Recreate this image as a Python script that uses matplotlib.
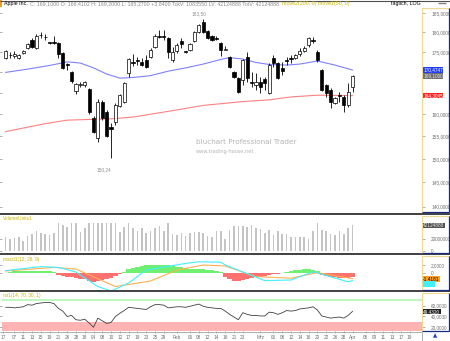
import numpy as np
import matplotlib
matplotlib.use("Agg")
import matplotlib.pyplot as plt
from matplotlib.lines import Line2D
from matplotlib.patches import Rectangle
from matplotlib.ticker import NullLocator

plt.rcParams['font.family'] = ['Liberation Sans', 'DejaVu Sans']

# ---------------- data ----------------
opens = [173.4, 174.3, 174.0, 173.5, 174.7, 176.0, 178.0, 176.0, 179.2, 178.9,
         177.4, 177.5, 177.25, 174.7, 172.0, 170.0, 165.4, 166.8, 166.8, 165.9,
         159.1, 154.6, 162.8, 160.5, 157.0, 158.2, 161.9, 162.8, 169.8, 172.4,
         172.9, 172.4, 173.0, 173.7, 176.2, 179.0, 179.0, 178.5, 173.0, 175.2,
         177.8, 175.1, 175.5, 177.8, 180.1, 182.7, 180.3, 179.0, 178.5, 177.25,
         175.5, 173.7, 170.0, 168.5, 168.0, 173.7, 167.6, 166.8, 167.6, 168.3,
         164.9, 173.5, 172.2, 171.0, 173.0, 173.5, 173.5, 174.5, 175.2, 176.7,
         178.0, 175.0, 170.5, 166.8, 165.6, 162.6, 164.5, 164.0, 162.1, 166.41]
highs = [175.5, 175.0, 175.2, 174.5, 175.5, 177.2, 178.5, 179.6, 180.1, 179.6,
         177.5, 179.0, 177.5, 175.0, 172.2, 170.2, 167.3, 167.6, 167.8, 166.1,
         159.6, 163.5, 163.3, 161.0, 158.0, 162.6, 164.7, 167.6, 173.5, 174.5,
         173.7, 173.5, 174.2, 176.0, 179.6, 180.6, 180.6, 178.8, 176.2, 177.2,
         178.5, 175.2, 177.2, 180.3, 182.2, 183.5, 180.6, 179.3, 179.0, 177.5,
         176.5, 174.0, 170.2, 168.8, 173.2, 175.0, 170.0, 169.8, 168.8, 168.8,
         172.2, 174.2, 172.5, 172.5, 173.7, 174.2, 174.5, 176.0, 176.5, 178.8,
         178.8, 175.5, 170.7, 167.1, 166.1, 164.0, 165.2, 164.5, 167.3, 169.2]
lows = [173.2, 173.5, 173.5, 173.2, 174.5, 175.7, 176.0, 175.7, 178.5, 178.0,
        177.0, 177.0, 173.5, 170.7, 170.5, 167.3, 164.7, 166.4, 166.4, 160.0,
        155.7, 153.7, 158.6, 154.8, 150.24, 157.5, 161.6, 162.6, 168.8, 171.5,
        171.7, 171.5, 171.0, 173.5, 176.0, 178.5, 178.0, 173.5, 172.5, 174.7,
        176.0, 174.7, 175.2, 177.5, 179.8, 179.8, 178.3, 177.8, 178.0, 174.0,
        175.4, 171.0, 168.5, 164.9, 166.8, 167.6, 166.4, 165.6, 164.9, 165.6,
        164.7, 171.2, 168.3, 169.3, 171.7, 172.2, 173.2, 174.0, 175.0, 176.2,
        177.3, 172.5, 165.4, 164.0, 161.4, 162.3, 162.8, 160.5, 161.6, 165.27]
closes = [175.1, 174.1, 174.5, 174.2, 175.2, 177.0, 176.2, 179.0, 179.4, 178.7,
          177.2, 177.2, 174.5, 171.0, 171.7, 167.8, 167.1, 167.0, 167.6, 160.5,
          155.9, 162.8, 159.1, 155.1, 156.6, 162.1, 164.5, 167.3, 173.2, 172.1,
          172.7, 171.7, 171.2, 175.5, 179.0, 178.8, 178.7, 175.0, 175.0, 176.7,
          177.0, 174.9, 177.0, 180.1, 181.9, 180.1, 178.5, 178.0, 178.3, 175.5,
          175.7, 171.2, 168.8, 165.2, 173.0, 168.5, 167.3, 167.6, 166.4, 167.3,
          171.7, 172.2, 168.5, 170.2, 172.7, 173.2, 174.2, 175.2, 176.0, 178.5,
          177.8, 173.0, 165.6, 164.9, 162.8, 163.8, 164.2, 162.1, 165.26, 169.1]
volumes_m = [22.2, 18.9, 20.6, 22.2, 16.5, 24.4, 27.3, 33.4, 29.0, 27.3,
             26.1, 30.0, 45.8, 43.0, 39.1, 45.8, 45.8, 31.7, 37.4, 45.8,
             45.8, 45.8, 45.8, 45.8, 45.8, 45.8, 31.7, 39.1, 45.8, 37.4,
             33.4, 37.4, 29.0, 33.4, 37.4, 41.3, 33.4, 45.8, 27.8, 26.1,
             29.0, 24.4, 30.0, 31.7, 31.7, 30.0, 24.4, 22.2, 33.4, 33.4,
             19.4, 34.5, 41.3, 41.3, 41.3, 39.1, 43.5, 37.4, 35.7, 29.0,
             34.5, 26.1, 33.4, 27.8, 27.8, 22.2, 22.2, 22.2, 22.2, 18.9,
             33.4, 46.8, 34.5, 33.4, 27.8, 26.1, 33.4, 27.8, 37.4, 42.124888]
ma50_idx = [1, 6, 11, 15, 18, 21, 24, 27, 30, 34, 38, 42, 46, 50, 52, 55, 58, 61, 65, 68, 72, 76, 80]
ma50_val = [169.9, 170.7, 171.6, 172.5, 172.2, 171.0, 169.5, 168.5, 168.65, 169.1, 170.2, 171.0,
            171.95, 173.1, 173.55, 173.2, 172.35, 171.85, 171.7, 171.95, 172.7, 171.7, 170.4747]
ma200_idx = [1, 10, 15, 25, 30, 40, 46, 55, 61, 66, 72, 80]
ma200_val = [156.0, 157.8, 158.6, 158.9, 159.3, 160.95, 162.0, 162.9, 163.3, 164.0, 164.4, 164.3045]
macd_idx = [1, 9, 13, 17, 22, 25, 29, 33, 42, 45, 50, 51, 60, 66, 71, 79, 80]
macd_val = [0.6, 1.6, 1.4, 0.25, -3.4, -4.5, -2.5, 0.75, 2.4, 2.8, 2.7, 2.0, -1.9, -1.75, 0.3, -2.2, -1.9]
signal_idx = [1, 12, 17, 26, 34, 40, 46, 51, 58, 66, 72, 80]
signal_val = [0.5, 1.4, 1.0, -3.4, -2.0, 0.75, 2.0, 1.75, -0.9, -1.3, 0.1, -1.4181]
hist = [0.0, 0.3, 0.4, 0.5, 0.5, 0.6, 0.6, 0.6, 0.5, 0.5,
        0.4, 0.3, -0.5, -0.8, -1.0, -1.1, -1.3, -1.4, -1.6, -1.9,
        -2.2, -2.0, -1.8, -1.6, -1.3, -0.8, -0.3, 0.3, 0.9, 1.3,
        1.6, 1.8, 1.9, 2.0, 2.0, 2.0, 2.0, 1.9, 1.8, 1.6,
        1.4, 1.2, 1.1, 1.0, 0.9, 0.9, 0.8, 0.7, 0.5, 0.3,
        -1.0, -1.5, -1.9, -1.9, -1.8, -1.6, -1.3, -1.0, -0.9, -0.8,
        -0.6, -0.3, -0.2, 0.1, 0.2, 0.5, 0.7, 0.8, 0.9, 0.9,
        0.8, 0.5, -0.4, -0.8, -1.0, -1.1, -1.2, -1.3, -1.2, -1.0]
rsi = [57, 57, 56, 57, 58, 62, 61, 64, 65, 66, 66, 64, 55, 50, 40, 42, 34, 33, 35, 28,
       20, 37, 32, 27, 29, 40, 46, 51, 57, 56, 55, 54, 53, 58, 62, 62, 61, 56, 57, 58,
       58, 57, 59, 61, 63, 59, 57, 56, 55, 55, 50, 44, 39, 34, 47, 44, 42, 42, 41, 41,
       48, 47, 44, 47, 51, 50, 51, 54, 55, 56, 58, 52, 41, 39, 37, 38, 39, 37, 42, 49.432]
tick_pos = [0.4, 3, 5, 7, 9, 11, 13, 15, 17, 19, 21, 23, 25, 27, 29, 31, 33, 35, 37, 40,
            43, 45, 47, 49, 51, 53, 55, 59, 62, 64, 66, 68, 70, 72, 74, 76, 78, 80,
            83, 85, 87, 89, 91, 93]
tick_lab = ["17", "07", "11", "13", "15", "19", "21", "26", "28", "18", "04", "08", "10", "12",
            "17", "19", "23", "25", "29", "Feb", "06", "08", "12", "14", "16", "21", "23", "Mrz",
            "06", "08", "12", "14", "16", "20", "22", "26", "28", "Apr", "05", "09", "11", "13",
            "17", "19"]
price_ticks = [140, 145, 150, 155, 160, 165, 170, 175, 180, 185]
title_main = "Apple Inc."
title_info = ("C: 169,1000 O: 166,4102 H: 169,2000 L: 165,2700 +3,8400 "
              "TckV: 1083550 LV: 42124888 TotV: 42124888")
title_ma = "move2(200, 0) move1(50, 0)"

# ---------------- layout helpers ----------------
W, H = 450, 341
fig = plt.figure(figsize=(W / 100, H / 100), dpi=100)
fig.patch.set_facecolor("white")
FS = 3.4
TFS = 3.75
GRAY = "#8a8a8a"
OLIVE = "#c8b400"


def px_axes(x0, y0, x1, y1):
    a = fig.add_axes([x0 / W, 1 - y1 / H, (x1 - x0) / W, (y1 - y0) / H])
    for s in a.spines.values():
        s.set_visible(False)
    a.set_facecolor("none")
    return a


def fline(x0, y0, x1, y1, color, lw):
    fig.add_artist(Line2D([x0 / W, x1 / W], [1 - y0 / H, 1 - y1 / H],
                          transform=fig.transFigure, color=color, lw=lw,
                          solid_capstyle="butt"))


def strip(y0, y1):
    fline(421.5, y0, 421.5, y1, "#f0d890", 0.8)
    fline(421.5, y0, 448.5, y0, "#f0d890", 0.8)
    fline(448.5, y0, 448.5, y1, "#1a2a80", 0.9)
    fline(421.5, y1, 448.5, y1, "#1a2a80", 0.9)


XL, XR = 2, 421.5
X0, DX = 5.7, 4.39
n = len(closes)
idx = np.arange(1, n + 1)
xlim = (1 - (X0 - XL) / DX, 1 + (XR - X0) / DX)


def fmt(v, d=4):
    return f"{v:.{d}f}".replace(".", ",")


def style_yaxis(a):
    a.yaxis.tick_right()
    a.yaxis.set_minor_locator(NullLocator())
    a.tick_params(axis="y", which="major", right=True, left=True, length=2,
                  width=0.5, color="#909090", labelsize=FS, labelcolor="#707070", pad=5)
    a.set_xticks([])
    a.set_xlim(*xlim)


def value_boxes(a, items, gap_px=6.2):
    """items: list of (value, text, facecolor, textcolor); boxes are pushed apart
    vertically so that they do not overlap."""
    inv = a.transAxes.inverted()
    ys = [a.transData.transform((1, it[0]))[1] for it in items]
    order = np.argsort(ys)[::-1]
    placed = {}
    last = None
    for k in order:
        y = ys[k]
        if last is not None and last - y < gap_px:
            y = last - gap_px
        placed[k] = y
        last = y
    for k, (val, text, fc, tc) in enumerate(items):
        yf = inv.transform((0, placed[k]))[1]
        a.text(1.004, yf, text, transform=a.transAxes, fontsize=FS, color=tc,
               va="center", ha="left", zorder=10, clip_on=False,
               bbox=dict(boxstyle="square,pad=0.08", fc=fc, ec="none"))


# ---------------- main price panel ----------------
ax = px_axes(XL, 8, XR, 212)
ax.set_yscale("log")
ax.set_ylim(138.93, 186.42)
o, h, l, c = map(np.array, (opens, highs, lows, closes))
up = c >= o
ax.plot(ma200_idx, ma200_val, color="#ff8080", lw=0.8, zorder=1)
ax.plot(ma50_idx, ma50_val, color="#8080ff", lw=0.8, zorder=1)
ax.vlines(idx, l, h, color="black", lw=0.6, zorder=2)
body_lo = np.minimum(o, c)
body_h = np.maximum(np.abs(c - o), 0.12)
ax.bar(idx, body_h, bottom=body_lo, width=0.72, color=np.where(up, "white", "black"),
       edgecolor="black", lw=0.5, zorder=3)
style_yaxis(ax)
ax.set_yticks(price_ticks)
# labels of 165 and 170 lie under the value boxes in the reference
ax.set_yticklabels(["" if t in (165, 170) else fmt(t) for t in price_ticks])

ih = int(np.argmax(h))
il = int(np.argmin(l))
ax.annotate(fmt(h[ih], 2), xy=(idx[ih], h[ih]), xytext=(-3, 2), textcoords="offset points",
            ha="center", va="bottom", fontsize=FS, color="#909090")
ax.annotate(fmt(l[il], 2), xy=(idx[il], l[il]), xytext=(-5, -7), textcoords="offset points",
            ha="center", va="top", fontsize=FS, color="#909090")

fig.text(196 / W, 1 - 142 / H, "bluchart Professional Trader", fontsize=5.2,
         family="DejaVu Sans", color="#b4b4b4", va="center", ha="left")
fig.text(196 / W, 1 - 151 / H, "www.trading-house.net", fontsize=3.6,
         family="DejaVu Sans", color="#b4b4b4", va="center", ha="left")

# title line (pieces placed one after another)
fig.add_artist(Rectangle((0, 1 - 7 / H), 2 / W, 7 / H, transform=fig.transFigure,
                         fc="#f0a020", ec="none"))
renderer = fig.canvas.get_renderer()
xcur = 4.0
for txt, col in ((title_main, "black"), (title_info, GRAY), (title_ma, OLIVE)):
    t = fig.text(xcur / W, 1 - 3.5 / H, txt, fontsize=TFS, color=col, va="center")
    bb = t.get_window_extent(renderer=renderer)
    xcur = bb.x1 + 2.5
fig.text(421 / W, 1 - 3.5 / H, "täglich, LOG", fontsize=TFS, color="black", va="center", ha="right")
fline(0, 0.5, 450, 0.5, "#505050", 0.8)
fline(438, 3, 446, 3, "#808080", 1.0)

# ---------------- volume panel ----------------
axv = px_axes(XL, 215, XR, 253)
axv.bar(idx, volumes_m, width=0.36, color="#c4c4c4")
axv.set_ylim(-4.2, 59.8)
style_yaxis(axv)
axv.set_yticks([0, 20])
axv.set_yticklabels(["0", "20000000"])
axv.text(0.003, 0.9, "VolumeUnits1", transform=axv.transAxes, fontsize=FS, color=OLIVE, va="center")

# ---------------- MACD panel ----------------
axm = px_axes(XL, 255, XR, 290)
hist_a = np.array(hist)
axm.bar(idx, hist_a, width=1.0, color=np.where(hist_a >= 0, "#70f070", "#ff7070"), lw=0)
axm.plot(signal_idx, signal_val, color="#ffb050", lw=0.8)
axm.plot(macd_idx, macd_val, color="#40f0ff", lw=0.8)
axm.set_ylim(-4.25, 4.5)
style_yaxis(axm)
axm.set_yticks([0, 2])
axm.set_yticklabels(["0", "2,0000"])
axm.text(0.003, 0.88, "macd1(12, 26, 9)", transform=axm.transAxes, fontsize=FS, color=OLIVE, va="center")

# ---------------- RSI panel ----------------
axr = px_axes(XL, 292, XR, 331)
axr.set_ylim(13.1, 85.4)
axr.axhspan(13.1, 30, color="#ffb4b4", lw=0)
axr.axhline(70, color="#b4f4b4", lw=1.2)
axr.plot(idx, rsi, color="#404040", lw=0.6)
style_yaxis(axr)
axr.set_yticks([20, 40, 60])
axr.set_yticklabels([fmt(20), fmt(40), fmt(60)])
axr.text(0.003, 0.9, "rsi1(14, 70, 30, 1)", transform=axr.transAxes, fontsize=FS, color=OLIVE, va="center")
axr.set_xticks(tick_pos)
axr.set_xticklabels(tick_lab)
axr.tick_params(axis="x", length=1.5, width=0.5, color="#909090", labelsize=FS,
                labelcolor="#707070", pad=1.5, bottom=True)

# value boxes on the right scale
value_boxes(ax, [(ma50_val[-1], fmt(ma50_val[-1]), "#1f3cff", "white"),
                 (closes[-1], fmt(closes[-1]), "#707070", "#e0e0e0"),
                 (ma200_val[-1], fmt(ma200_val[-1]), "#ff2020", "white")])
value_boxes(axv, [(volumes_m[-1], "42124888", "#505050", "#e8e8e8")])
value_boxes(axm, [(signal_val[-1], fmt(signal_val[-1]), "#ffa020", "black"),
                  (macd_val[-1], "        ", "#40f0ff", "black")], gap_px=5.0)
value_boxes(axr, [(rsi[-1], fmt(rsi[-1]), "#202020", "white")])

# separators and right strips
for yy in (214, 254, 291):
    fline(0, yy, 450, yy, "#202020", 1.2)
fline(0, 331.5, 421.5, 331.5, "#a0a0a0", 0.6)
strip(8, 212)
strip(216, 253)
strip(256, 290)
strip(293, 331)
fline(421.5, 332, 421.5, 341, "#a0a0a0", 0.6)
fig.text(435 / W, 1 - 336 / H, "▲", fontsize=4, color="#2040c0", ha="center", va="center",
         family="DejaVu Sans")

fig.savefig("out.png", dpi=100)
